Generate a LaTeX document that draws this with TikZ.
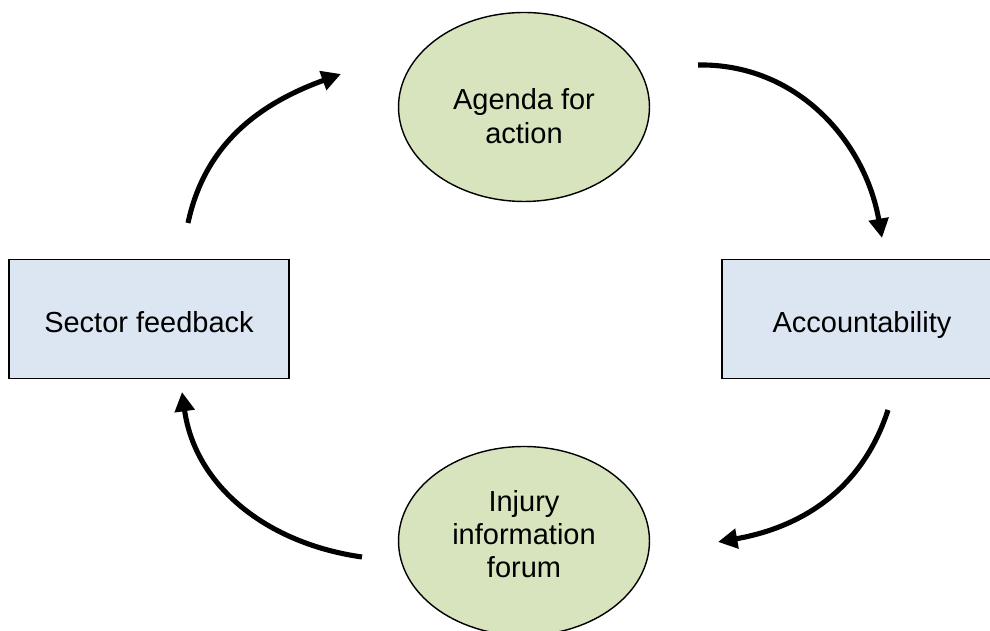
\documentclass[tikz,border=0pt]{standalone}
\usepackage{fontspec}
\setmainfont{Liberation Sans}
\usepackage{xcolor}
\usetikzlibrary{shapes, arrows.meta, calc, positioning}
\definecolor{ovalgreen}{HTML}{D7E4BD}
\definecolor{boxblue}{HTML}{DCE6F2}

\begin{document}
\begin{tikzpicture}[x=0.02cm, y=0.02cm]
        \useasboundingbox (0, 0) rectangle (990, 631);

        \tikzstyle{o} = [draw, ellipse, fill=ovalgreen, line width=0.8pt,
            minimum width=5.02cm, minimum height=3.78cm, inner sep=0pt];
        \tikzstyle{b} = [draw, rectangle, fill=boxblue, line width=0.8pt,
            minimum width=5.6cm, minimum height=2.38cm, inner sep=0pt];
        \tikzstyle{l} = [align=center, inner sep=0pt, text depth=0pt,
            font=\fontsize{16.5}{19}\selectfont];
        \tikzstyle{a} = [line width=2.9pt, -{Triangle[length=11pt, width=11pt]}];

        \node [o] (A) at (524, 524) { };
        \node [o] (F) at (524, 90) { };
        \node [b] (S) at (149, 312) { };
        \node [b] (C) at (862, 312) { };

        \node [l] (At) at ($(A) + (0, -9)$) {Agenda for\\action};
        \node [l] (Ft) at ($(F) + (0, 7)$) {Injury\\information\\forum};
        \node [l] (St) at ($(S) + (0, -3)$) {Sector feedback};
        \node [l] (Ct) at ($(C) + (0, -3)$) {Accountability};

        \coordinate (A1) at (188, 408);
        \coordinate (A2) at (341, 557);
        \coordinate (C1) at (698, 566);
        \coordinate (C2) at (882, 393);
        \coordinate (F1) at (888, 221);
        \coordinate (F2) at (718, 89);
        \coordinate (S1) at (362, 74);
        \coordinate (S2) at (182, 239);

        \draw [a] (A1) to[out=78, in=200] (A2);
        \draw [a] (C1) to[out=1, in=100] (C2);
        \draw [a] (F1) to[out=-108, in=10] (F2);
        \draw [a] (S1) to[out=172, in=-82] (S2);
    \end{tikzpicture}
\end{document}
